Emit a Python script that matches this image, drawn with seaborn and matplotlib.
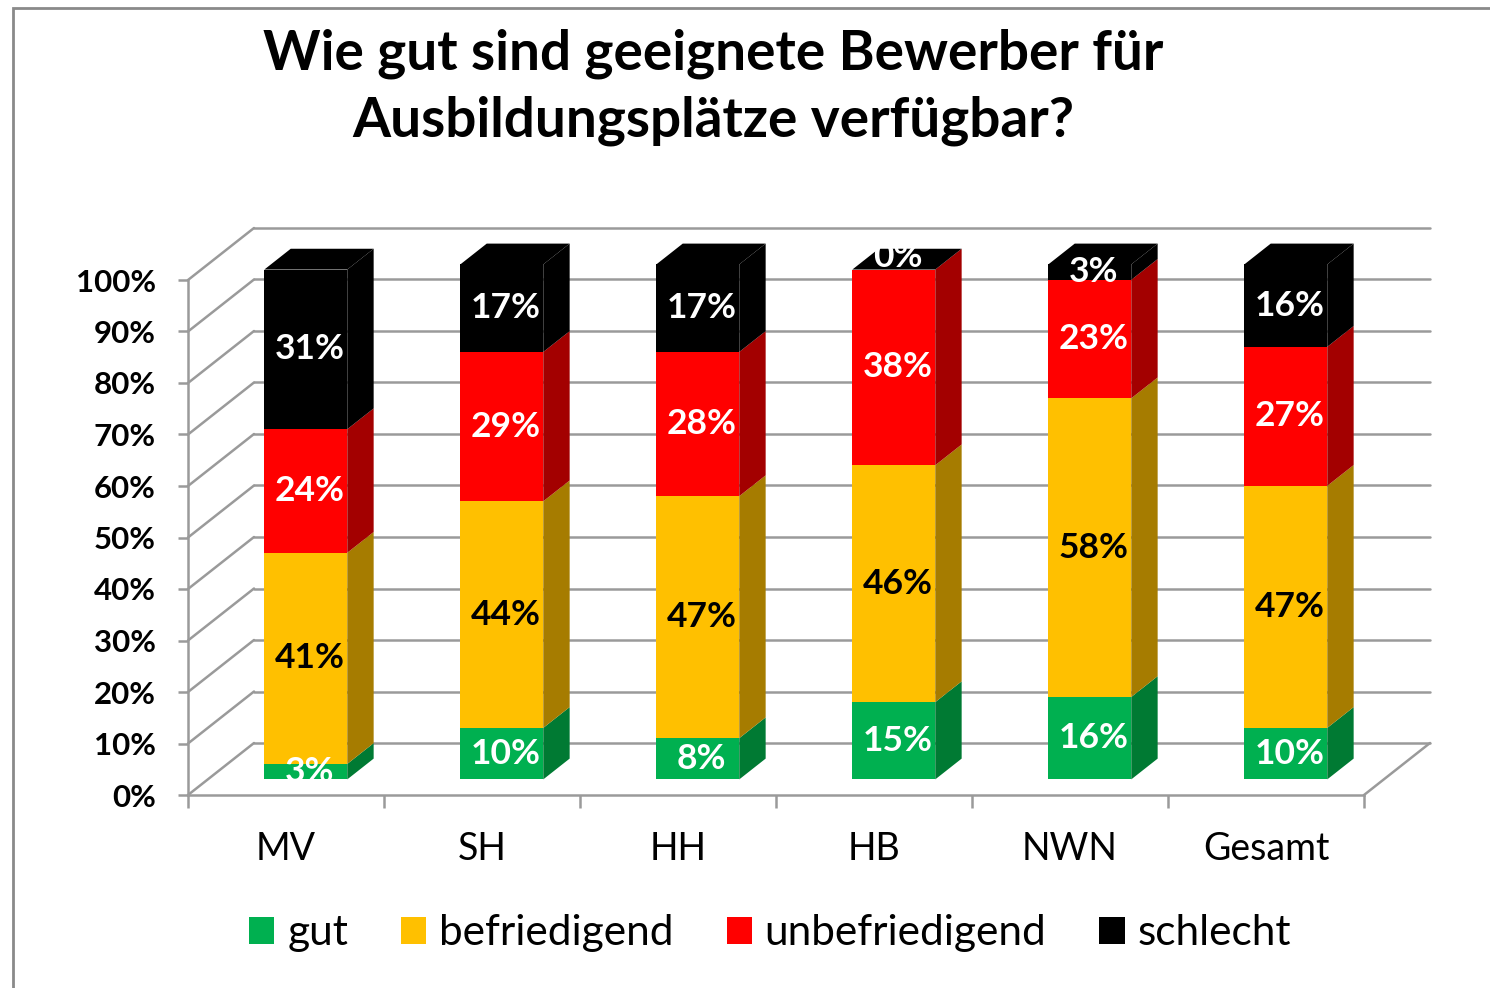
import numpy as np
import pandas as pd
import matplotlib
matplotlib.use('Agg')
import matplotlib.pyplot as plt
from matplotlib.patches import Polygon, Rectangle, Patch
import seaborn as sns

# Daten
categories = ['MV', 'SH', 'HH', 'HB', 'NWN', 'Gesamt']
gut = [3, 10, 8, 15, 16, 10]
befriedigend = [41, 44, 47, 46, 58, 47]
unbefriedigend = [24, 29, 28, 38, 23, 27]
schlecht = [31, 17, 17, 0, 3, 16]
series_names = ['gut', 'befriedigend', 'unbefriedigend', 'schlecht']
ytick_values = list(range(0, 101, 10))
ytick_labels = [f'{v}%' for v in ytick_values]

front_colors = ['#00B050', '#FFC000', '#FF0000', '#000000']
side_colors = ['#007A33', '#A67C00', '#A30000', '#000000']
label_colors = ['white', 'black', 'white', 'white']
grid_color = '#9a9a9a'

values = np.array([gut, befriedigend, unbefriedigend, schlecht], dtype=float)
tops = values.cumsum(axis=0)
bottoms = tops - values

sns.set_theme(style='white')
plt.rcParams['font.family'] = ['Lato', 'DejaVu Sans']
plt.rcParams['text.color'] = 'black'
plt.rcParams['xtick.color'] = 'black'
plt.rcParams['ytick.color'] = 'black'

fig = plt.figure(figsize=(14.9, 9.88), dpi=100)
ax = fig.add_axes([188 / 1490, (988 - 795) / 988, (1433 - 188) / 1490, (795 - 227) / 988])

# 3D-Tiefe (Datenkoordinaten)
DX = 66 / 196
DY = 52 / 5.15
z0, dz = 0.3, 0.4
bar_w = 0.423

# Wand- und Bodenlinien
for v in ytick_values:
    ax.plot([-0.5, -0.5 + DX], [v, v + DY], color=grid_color, lw=1.8, zorder=1, clip_on=False)
    ax.plot([-0.5 + DX, 5.5 + DX], [v + DY, v + DY], color=grid_color, lw=1.8, zorder=1, clip_on=False)
ax.plot([5.5, 5.5 + DX], [0, DY], color=grid_color, lw=1.8, zorder=1, clip_on=False)

# Vorderseiten (gestapelt, von oben nach unten gezeichnet)
front_patches = {}
for k in range(3, -1, -1):
    n0 = len(ax.patches)
    sns.barplot(x=categories, y=tops[k], order=categories, color=front_colors[k],
                saturation=1, width=bar_w, linewidth=0, ax=ax, zorder=3)
    new = ax.patches[n0:]
    for p in new:
        p.set_x(p.get_x() + z0 * DX)
        p.set_y(z0 * DY)
        p.set_clip_on(False)
    front_patches[k] = new

oy = z0 * DY
for i in range(len(categories)):
    p = front_patches[3][i]
    xl = p.get_x()
    xr = xl + p.get_width()
    sx, sy = dz * DX, dz * DY
    for k in range(4):
        b, t = bottoms[k, i] + oy, tops[k, i] + oy
        if t - b <= 0:
            continue
        ax.add_patch(Polygon([(xr, b), (xr + sx, b + sy), (xr + sx, t + sy), (xr, t)],
                             closed=True, facecolor=side_colors[k], edgecolor='none',
                             zorder=3, clip_on=False))
    T = tops[3, i] + oy
    ax.add_patch(Polygon([(xl, T), (xl + sx, T + sy), (xr + sx, T + sy), (xr, T)],
                         closed=True, facecolor='#000000', edgecolor='none',
                         zorder=3, clip_on=False))
    # Beschriftungen
    for k in range(4):
        yc = (bottoms[k, i] + tops[k, i]) / 2 + oy
        if values[k, i] == 0:
            yc = tops[k, i] + oy + 2.5
        txt = ax.text((xl + xr) / 2 + 0.02, yc, f'{int(values[k, i])}%', ha='center', va='center',
                      fontsize=25.5, fontweight='bold', color=label_colors[k], zorder=5)
        if values[k, i] > 0:
            txt.set_clip_path(p)

# Achsen
ax.set_xlim(-0.5, -0.5 + (1433 - 188) / 196)
ax.set_ylim(0, (795 - 227) / 5.15)
for s in ['top', 'right']:
    ax.spines[s].set_visible(False)
for s in ['left', 'bottom']:
    ax.spines[s].set_color(grid_color)
    ax.spines[s].set_linewidth(1.8)
ax.spines['left'].set_bounds(0, 100)
ax.spines['bottom'].set_bounds(-0.5, 5.5)

ax.set_yticks(ytick_values)
ax.set_yticklabels(ytick_labels, fontsize=22.5, fontweight='bold')
ax.tick_params(axis='y', length=7, width=1.8, color=grid_color, labelcolor='black', pad=16, left=True)

ax.set_xticks(np.arange(-0.5, 6, 1))
ax.set_xticklabels([])
ax.set_xticks(np.arange(6), minor=True)
ax.set_xticklabels(categories, minor=True, fontsize=27)
ax.tick_params(axis='x', which='major', length=9, width=1.8, color=grid_color, bottom=True)
ax.tick_params(axis='x', which='minor', length=0, pad=26, labelcolor='black')
ax.set_xlabel('')
ax.set_ylabel('')
ax.patch.set_alpha(0)

# Titel
fig.text(713 / 1490, 1 - 87 / 988, 'Wie gut sind geeignete Bewerber für\nAusbildungsplätze verfügbar?',
         ha='center', va='center', fontsize=39.5, fontweight='bold', linespacing=1.4, color='black')

# Legende
handles = [Patch(facecolor=c, edgecolor='none') for c in front_colors]
fig.legend(handles, series_names, loc='center', bbox_to_anchor=(770 / 1490, 1 - 933 / 988),
           ncol=4, frameon=False, fontsize=30.5, handlelength=0.6, handleheight=0.6,
           handletextpad=0.3, columnspacing=1.25, labelcolor='black')

# Rahmen
fig.add_artist(Rectangle((13 / 1490, -0.1), 1.2, 1.1 - 8 / 988, transform=fig.transFigure,
                         fill=False, edgecolor='#8a8a8a', lw=2))

fig.savefig('out.png', dpi=100)
